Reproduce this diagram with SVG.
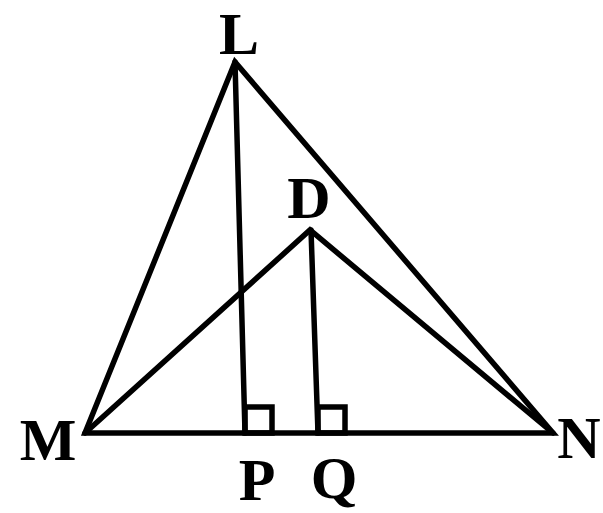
<svg xmlns="http://www.w3.org/2000/svg" width="603" height="513" viewBox="0 0 603 513">
<style>
.ln{stroke:#000;stroke-width:5.5;fill:none;stroke-linejoin:miter;stroke-linecap:round}
.lb{font-family:"Liberation Serif","Times New Roman",serif;font-size:60px;font-weight:bold;fill:#000;text-anchor:middle}
</style>
<rect width="603" height="513" fill="#fff"/>
<g id="connectors">
<polygon class="ln" points="235,62 85,433 553,433"/>
<polyline class="ln" points="85,433 310,230 553,433"/>
<line class="ln" x1="235" y1="62" x2="245" y2="433"/>
<line class="ln" x1="311" y1="230" x2="318" y2="433"/>
<rect class="ln" x="245" y="407" width="27" height="26"/>
<rect class="ln" x="318" y="407" width="27" height="26"/>
</g>
<g id="L"><text class="lb" x="239" y="54">L</text></g>
<g id="M"><text class="lb" x="48" y="460">M</text></g>
<g id="N"><text class="lb" x="579" y="458">N</text></g>
<g id="D"><text class="lb" x="309" y="218">D</text></g>
<g id="P"><text class="lb" x="257" y="500">P</text></g>
<g id="Q"><text class="lb" x="334" y="498">Q</text></g>
</svg>
